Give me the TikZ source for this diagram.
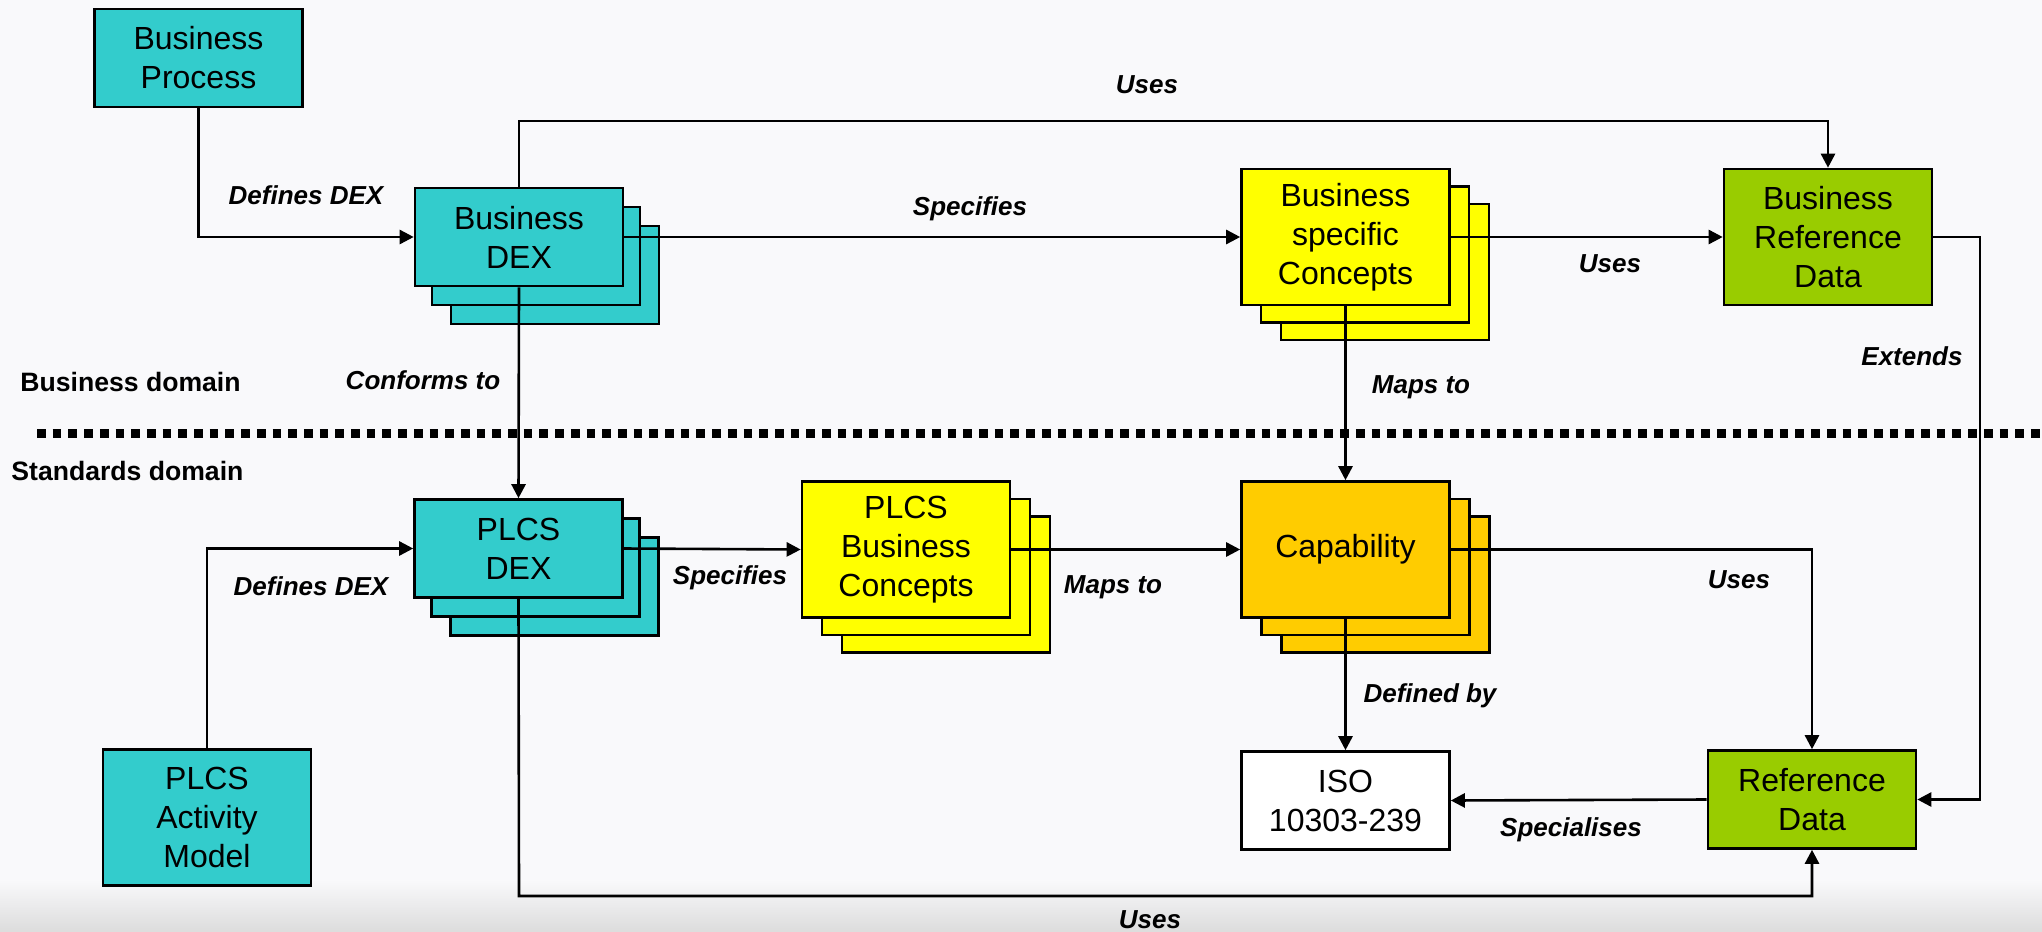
\documentclass[tikz,border=0pt]{standalone}
\usepackage{fontspec}
\setmainfont{Liberation Sans}
\usetikzlibrary{arrows.meta,calc}

\definecolor{dexteal}{HTML}{33CCCC}
\definecolor{conceptyellow}{HTML}{FFFF00}
\definecolor{capgold}{HTML}{FFCC00}
\definecolor{refgreen}{HTML}{99CC00}
\definecolor{pagebg}{HTML}{F9F9FB}
\definecolor{groundgrey}{HTML}{DCDCDC}

\tikzset{
  box/.style={draw=black, line width=1.3pt, minimum width=104pt, minimum height=49pt,
    align=center, inner sep=0pt, font=\fontsize{16}{19.5}\selectfont},
  tallbox/.style={box, minimum height=68pt},
  lbl/.style={font=\fontsize{13}{15}\selectfont\bfseries\itshape, inner sep=0pt,
    text height=0.72em, text depth=0pt},
  domainlbl/.style={font=\fontsize{13.3}{15}\selectfont\bfseries, inner sep=0pt,
    text height=0.72em, text depth=0pt, anchor=west},
  conn/.style={line width=1.3pt, -{Triangle[length=7pt,width=7pt]}},
}

\begin{document}
\begin{tikzpicture}[x=0.5pt,y=-0.5pt]
  % page
  \fill[pagebg] (0,0) rectangle (2042,932);
  \shade[top color=pagebg, bottom color=groundgrey] (0,880) rectangle (2042,932);
  \useasboundingbox (0,0) rectangle (2042,932);

  % boundary between the two domains
  \draw[line width=4.35pt, dash pattern=on 4.35pt off 3.5pt] (37,433.5) -- (2042,433.5);
  \node[domainlbl] (bizdom) at (20,384.5) {Business domain};
  \node[domainlbl] (stddom) at (11,473) {Standards domain};

  % business domain
  \node[box, fill=dexteal] (bp) at (198.5,58) {Business\\Process};

  \node[box, fill=dexteal] (bdexC) at (555,275) {};
  \node[box, fill=dexteal] (bdexB) at (536,256) {};
  \node[box, fill=dexteal] (bdex) at (519,237) {Business\\DEX};

  \node[tallbox, fill=conceptyellow] (bscC) at (1385,272) {};
  \node[tallbox, fill=conceptyellow] (bscB) at (1365,254.5) {};
  \node[tallbox, fill=conceptyellow] (bsc) at (1345.5,237) {Business\\specific\\Concepts};

  \node[tallbox, fill=refgreen] (brd) at (1828,237) {Business\\Reference\\Data};

  % standards domain
  \node[box, fill=dexteal] (pdexC) at (554.5,586.5) {};
  \node[box, fill=dexteal] (pdexB) at (535.5,567.5) {};
  \node[box, fill=dexteal] (pdex) at (518.5,548.5) {PLCS\\DEX};

  \node[tallbox, fill=conceptyellow] (pbcC) at (946,584.5) {};
  \node[tallbox, fill=conceptyellow] (pbcB) at (926,567) {};
  \node[tallbox, fill=conceptyellow] (pbc) at (906,549.5) {PLCS\\Business\\Concepts};

  \node[tallbox, fill=capgold] (capC) at (1385.5,584.5) {};
  \node[tallbox, fill=capgold] (capB) at (1365.5,567) {};
  \node[tallbox, fill=capgold] (cap) at (1345.5,549.5) {Capability};

  \node[box, fill=white] (iso) at (1345.5,800.5) {ISO\\10303-239};
  \node[box, fill=refgreen] (rd) at (1812,799.5) {Reference\\Data};
  \node[tallbox, fill=dexteal] (pam) at (207,817.5) {PLCS\\Activity\\Model};

  % routing points
  \coordinate (usesTop) at (1828,121);
  \coordinate (extCol) at (1980,237);
  \coordinate (usesBot) at (519,896);

  % connectors
  \draw[conn] (bp.south) |- (bdex.west);
  \draw[conn] (bdex.north) |- (usesTop) -- (brd.north);
  \draw[conn] (bdex.east) -- (bsc.west);
  \draw[conn] (bsc.east) -- (brd.west);
  \draw[conn] (bdex.south) -- (pdex.north);
  \draw[conn] (bsc.south) -- (cap.north);
  \draw[conn] (brd.east) -- (extCol) |- (rd.east);
  \draw[conn] (pam.north) |- (pdex.west);
  \draw[conn] (pdex.east) -- (pbc.west);
  \draw[conn] (pbc.east) -- (cap.west);
  \draw[conn] (cap.east) -| (rd.north);
  \draw[conn] (cap.south) -- (iso.north);
  \draw[conn] (rd.west) -- (iso.east);
  \draw[conn] (pdex.south) -- (usesBot) -| (rd.south);

  % connector labels
  \node[lbl] (l1) at (306,197) {Defines DEX};
  \node[lbl] (l2) at (1147,86) {Uses};
  \node[lbl] (l3) at (970,208) {Specifies};
  \node[lbl] (l4) at (1610,265) {Uses};
  \node[lbl] (l5) at (423,382) {Conforms to};
  \node[lbl] (l6) at (1421,386) {Maps to};
  \node[lbl] (l7) at (1912,358) {Extends};
  \node[lbl] (l8) at (311,588) {Defines DEX};
  \node[lbl] (l9) at (730,577) {Specifies};
  \node[lbl] (l10) at (1113,586) {Maps to};
  \node[lbl] (l11) at (1739,581) {Uses};
  \node[lbl] (l12) at (1430,695) {Defined by};
  \node[lbl] (l13) at (1571,829) {Specialises};
  \node[lbl] (l14) at (1150,921) {Uses};
\end{tikzpicture}
\end{document}
